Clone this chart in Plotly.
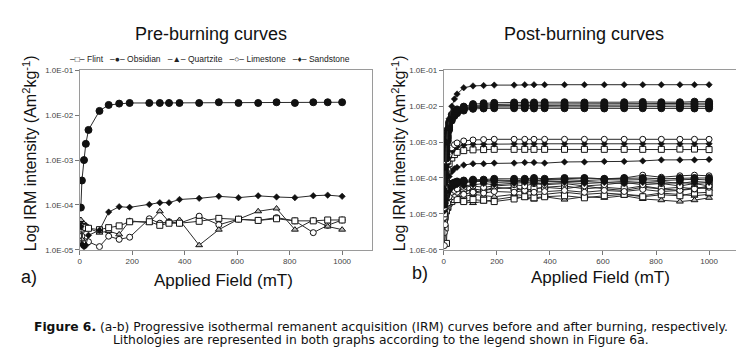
import plotly.graph_objects as go

# ---------------- data ----------------
FIELD_PRE = [4, 8, 16, 23, 33, 75, 110, 150, 190, 265, 305, 340, 380, 455, 530, 605, 680, 750, 820, 890, 945, 1000]

pre_flint = [3.3e-5, 2.9e-5, 3.3e-5, 3.1e-5, 3.0e-5, 2.8e-5, 3.1e-5, 3.4e-5, 4.2e-5, 4.2e-5, 3.5e-5, 3.9e-5, 3.9e-5,
             4.3e-5, 5.0e-5, 4.8e-5, 4.5e-5, 4.9e-5, 4.4e-5, 4.4e-5, 4.6e-5, 4.6e-5]
pre_obsidian = [8.7e-5, 3.5e-4, 1.0e-3, 2.3e-3, 4.7e-3, 1.25e-2, 1.7e-2, 1.82e-2, 1.88e-2, 1.88e-2, 1.88e-2, 1.88e-2,
                1.88e-2, 1.88e-2, 1.95e-2, 1.88e-2, 1.88e-2, 1.95e-2, 1.88e-2, 1.95e-2, 1.95e-2, 1.95e-2]
pre_quartzite = [4.6e-5, 1.7e-5, 3.8e-5, 3.5e-5, 3.0e-5, 2.4e-5, 2.6e-5, 2.2e-5, 4.4e-5, 4.0e-5, 7.2e-5, 4.2e-5, 4.6e-5,
                 1.26e-5, 2.8e-5, 4.8e-5, 7.2e-5, 8.3e-5, 2.8e-5, 4.6e-5, 3.3e-5, 2.8e-5]
pre_limestone = [3.5e-5, 2.0e-5, 1.5e-5, 1.5e-5, 1.5e-5, 1.17e-5, 2.0e-5, 1.7e-5, 1.9e-5, 4.9e-5, 3.9e-5, 4.2e-5, 3.9e-5,
                 5.6e-5, 3.6e-5, 4.8e-5, 4.5e-5, 5.2e-5, 4.4e-5, 2.4e-5, 3.5e-5, 4.6e-5]
pre_sandstone = [3.3e-5, 1.3e-5, 1.15e-5, 1.25e-5, 2.1e-5, 2.7e-5, 6.9e-5, 9.1e-5, 8.8e-5, 1.02e-4, 1.12e-4, 1.12e-4,
                 1.32e-4, 1.4e-4, 1.55e-4, 1.45e-4, 1.59e-4, 1.5e-4, 1.45e-4, 1.6e-4, 1.65e-4, 1.55e-4]

FIELD_POST = [2, 5, 10, 15, 20, 30, 40, 50, 75, 110, 150, 190, 265, 305, 340, 380, 455, 530, 605, 680, 750, 820, 890, 945, 1000]

post_sandstone_top = [5e-5, 2e-4, 1.0e-3, 2.5e-3, 4.5e-3, 1.0e-2, 1.6e-2, 2.2e-2, 3.3e-2, 3.7e-2, 3.8e-2, 3.9e-2, 3.9e-2,
                      4.0e-2, 4.0e-2, 4.0e-2, 4.0e-2, 4.0e-2, 4.0e-2, 4.0e-2, 4.0e-2, 4.0e-2, 4.0e-2, 4.0e-2, 4.0e-2]
post_obsidian_1 = [4e-5, 2e-4, 9e-4, 2.2e-3, 3.6e-3, 5.8e-3, 7.2e-3, 8.2e-3, 9.8e-3, 1.15e-2, 1.22e-2, 1.25e-2, 1.28e-2,
                   1.3e-2, 1.28e-2, 1.3e-2, 1.3e-2, 1.28e-2, 1.3e-2, 1.3e-2, 1.32e-2, 1.3e-2, 1.3e-2, 1.35e-2, 1.35e-2]
post_obsidian_2 = [3e-5, 1.5e-4, 7e-4, 1.8e-3, 3.2e-3, 5.2e-3, 6.6e-3, 7.6e-3, 9.0e-3, 1.05e-2, 1.1e-2, 1.12e-2, 1.15e-2,
                   1.15e-2, 1.15e-2, 1.16e-2, 1.15e-2, 1.16e-2, 1.15e-2, 1.16e-2, 1.18e-2, 1.18e-2, 1.2e-2, 1.22e-2, 1.22e-2]
post_obsidian_3 = [2.5e-5, 1.2e-4, 5.5e-4, 1.5e-3, 2.8e-3, 4.8e-3, 6.2e-3, 7.2e-3, 8.6e-3, 9.8e-3, 1.02e-2, 1.04e-2, 1.05e-2,
                   1.05e-2, 1.05e-2, 1.06e-2, 1.05e-2, 1.06e-2, 1.05e-2, 1.06e-2, 1.06e-2, 1.08e-2, 1.08e-2, 1.1e-2, 1.1e-2]
post_obsidian_4 = [2e-5, 1e-4, 4.5e-4, 1.3e-3, 2.5e-3, 4.4e-3, 5.8e-3, 6.8e-3, 8.2e-3, 9.2e-3, 9.5e-3, 9.6e-3, 9.6e-3,
                   9.7e-3, 9.6e-3, 9.7e-3, 9.6e-3, 9.7e-3, 9.7e-3, 9.6e-3, 9.8e-3, 9.8e-3, 9.7e-3, 9.8e-3, 9.8e-3]
post_obsidian_5 = [1.8e-5, 8e-5, 3.5e-4, 1.1e-3, 2.2e-3, 4.0e-3, 5.4e-3, 6.4e-3, 7.6e-3, 8.5e-3, 8.7e-3, 8.8e-3, 8.8e-3,
                   8.8e-3, 8.7e-3, 8.8e-3, 8.8e-3, 8.8e-3, 8.7e-3, 8.8e-3, 8.8e-3, 8.8e-3, 8.8e-3, 8.7e-3, 8.7e-3]
post_limestone_hi = [1.5e-5, 5e-5, 1.5e-4, 3e-4, 4.5e-4, 7e-4, 8.5e-4, 9.5e-4, 1.08e-3, 1.15e-3, 1.18e-3, 1.2e-3, 1.2e-3,
                     1.2e-3, 1.2e-3, 1.2e-3, 1.2e-3, 1.2e-3, 1.2e-3, 1.2e-3, 1.2e-3, 1.2e-3, 1.2e-3, 1.2e-3, 1.2e-3]
post_sandstone_mid = [1.2e-5, 4e-5, 1.2e-4, 2.5e-4, 3.8e-4, 5.5e-4, 6.8e-4, 7.5e-4, 8.3e-4, 8.7e-4, 8.8e-4, 8.9e-4, 9e-4,
                      9e-4, 9e-4, 9e-4, 9e-4, 9e-4, 9e-4, 9e-4, 9e-4, 9e-4, 9e-4, 9e-4, 9e-4]
post_flint_mid = [1e-5, 3e-5, 8e-5, 1.6e-4, 2.5e-4, 3.6e-4, 4.5e-4, 5.2e-4, 5.8e-4, 6.1e-4, 6.2e-4, 6.3e-4, 6.3e-4,
                  6.3e-4, 6.3e-4, 6.3e-4, 6.3e-4, 6.3e-4, 6.3e-4, 6.3e-4, 6.3e-4, 6.3e-4, 6.4e-4, 6.4e-4, 6.2e-4]
post_sandstone_low = [1e-5, 2e-5, 5e-5, 8e-5, 1.1e-4, 1.5e-4, 1.8e-4, 2.0e-4, 2.3e-4, 2.5e-4, 2.5e-4, 2.6e-4, 2.6e-4,
                      2.7e-4, 2.7e-4, 2.6e-4, 2.8e-4, 2.8e-4, 2.9e-4, 2.9e-4, 3.0e-4, 3.2e-4, 3.2e-4, 3.2e-4, 3.3e-4]
post_obsidian_6 = [2e-5, 3e-5, 4e-5, 5e-5, 6e-5, 7e-5, 7.5e-5, 8e-5, 8.5e-5, 9e-5, 9e-5, 9.5e-5, 9.5e-5,
                   9.5e-5, 1.0e-4, 9.5e-5, 1.0e-4, 1.0e-4, 9.5e-5, 1.0e-4, 1.0e-4, 9.5e-5, 1.0e-4, 1.0e-4, 1.0e-4]
post_obsidian_7 = [1.5e-5, 2.5e-5, 3.5e-5, 4.5e-5, 5e-5, 6e-5, 7e-5, 7.5e-5, 8e-5, 8.5e-5, 8.5e-5, 8.8e-5, 8.5e-5,
                   9e-5, 8.5e-5, 8.8e-5, 9e-5, 8.5e-5, 9e-5, 8.8e-5, 9e-5, 8.5e-5, 9e-5, 9.2e-5, 8.8e-5]
post_limestone_1 = [8e-6, 1.5e-5, 3e-5, 4e-5, 5e-5, 6e-5, 6.5e-5, 7e-5, 7.5e-5, 8e-5, 8e-5, 8.5e-5, 8e-5,
                    9e-5, 8.5e-5, 9e-5, 9.5e-5, 1.0e-4, 9.5e-5, 1.0e-4, 1.2e-4, 1.05e-4, 1.15e-4, 1.2e-4, 1.15e-4]
post_limestone_2 = [1.3e-6, 5e-6, 1.2e-5, 2e-5, 3e-5, 4e-5, 4.5e-5, 5e-5, 5.5e-5, 6e-5, 5.5e-5, 6e-5, 6.5e-5,
                    6e-5, 7e-5, 6.5e-5, 7e-5, 6e-5, 6.5e-5, 7.5e-5, 6.5e-5, 7e-5, 6e-5, 7e-5, 6e-5]
post_limestone_3 = [3e-6, 8e-6, 1.5e-5, 2e-5, 2.5e-5, 3e-5, 3.5e-5, 4e-5, 3.5e-5, 4e-5, 3.8e-5, 4.2e-5, 4e-5,
                    4.5e-5, 4e-5, 4.2e-5, 4.5e-5, 4e-5, 4.5e-5, 4.2e-5, 4.8e-5, 4.2e-5, 4.5e-5, 5e-5, 5.5e-5]
post_flint_1 = [6e-6, 4e-6, 1.5e-6, 1.6e-5, 4e-5, 6e-5, 7e-5, 7.5e-5, 7.5e-5, 8e-5, 8e-5, 7.5e-5, 8e-5,
                8e-5, 7.5e-5, 8e-5, 8e-5, 8e-5, 7.5e-5, 8e-5, 7.5e-5, 8e-5, 7e-5, 8e-5, 7.5e-5]
post_flint_2 = [1e-5, 1.5e-5, 2e-5, 3e-5, 3.5e-5, 4e-5, 4.5e-5, 4.5e-5, 5e-5, 4e-5, 4.5e-5, 5e-5, 5.5e-5,
                4.5e-5, 5e-5, 5.5e-5, 6e-5, 5e-5, 5.5e-5, 5e-5, 6e-5, 5e-5, 5.5e-5, 5e-5, 6e-5]
post_flint_3 = [5e-6, 8e-6, 1.2e-5, 1.5e-5, 2e-5, 2.2e-5, 2.5e-5, 2.5e-5, 2.2e-5, 2.5e-5, 2.4e-5, 2.2e-5, 2.6e-5,
                3e-5, 2.8e-5, 3e-5, 3.2e-5, 2.8e-5, 3.2e-5, 3.5e-5, 3e-5, 3.4e-5, 3.2e-5, 3.8e-5, 4e-5]
post_quartzite_1 = [1e-5, 1.2e-5, 1.5e-5, 1.8e-5, 2e-5, 2.2e-5, 2.5e-5, 2.5e-5, 2.2e-5, 2e-5, 2.2e-5, 2.4e-5, 3e-5,
                    2.8e-5, 2.5e-5, 3e-5, 2.5e-5, 3e-5, 2.8e-5, 3.2e-5, 2.6e-5, 2.4e-5, 2.2e-5, 2.4e-5, 2.8e-5]
post_quartzite_2 = [1.5e-5, 2e-5, 2.2e-5, 2.5e-5, 3e-5, 3.5e-5, 3.5e-5, 3.2e-5, 3e-5, 3.5e-5, 3.2e-5, 3e-5, 3.5e-5,
                    3.2e-5, 3.5e-5, 3.5e-5, 4e-5, 3.5e-5, 3.8e-5, 3.5e-5, 3.2e-5, 3.8e-5, 3.5e-5, 3.2e-5, 3.5e-5]
post_quartzite_3 = [2e-5, 2.5e-5, 3e-5, 3.5e-5, 4e-5, 4.5e-5, 5e-5, 4.5e-5, 4e-5, 5e-5, 4.5e-5, 5.5e-5, 5e-5,
                    4.5e-5, 5e-5, 5.5e-5, 5e-5, 6e-5, 5e-5, 4.5e-5, 5.5e-5, 5e-5, 4.5e-5, 5.5e-5, 5e-5]
post_sandstone_4 = [1.2e-5, 2e-5, 3e-5, 4e-5, 5e-5, 5.5e-5, 6e-5, 6.5e-5, 6e-5, 6.5e-5, 7e-5, 6.5e-5, 7e-5,
                    7.5e-5, 7e-5, 7e-5, 7.5e-5, 7e-5, 7.5e-5, 7e-5, 7.5e-5, 7e-5, 7.5e-5, 7e-5, 7.5e-5]

Y_TICKS_PRE = [1e-5, 1e-4, 1e-3, 1e-2, 1e-1]
Y_TEXT_PRE = ["1.0E-05", "1.0E-04", "1.0E-03", "1.0E-02", "1.0E-01"]
Y_TICKS_POST = [1e-6, 1e-5, 1e-4, 1e-3, 1e-2, 1e-1]
Y_TEXT_POST = ["1.0E-06", "1.0E-05", "1.0E-04", "1.0E-03", "1.0E-02", "1.0E-01"]
X_TICKS = [0, 200, 400, 600, 800, 1000]

# ---------------- styles ----------------
W, H = 744, 348
FONT = "Liberation Sans, Arial, sans-serif"
CAPFONT = "DejaVu Sans, Verdana, sans-serif"
LINE = "#2a2a2a"
STYLE = {
    "Flint": dict(symbol="square", size=6, color="white", line=dict(color="#111", width=1)),
    "Obsidian": dict(symbol="circle", size=7, color="#111", line=dict(color="#111", width=1)),
    "Quartzite": dict(symbol="triangle-up", size=6, color="#bbbbbb", line=dict(color="#111", width=1)),
    "Limestone": dict(symbol="circle", size=6, color="white", line=dict(color="#111", width=1)),
    "Sandstone": dict(symbol="diamond", size=5, color="#111", line=dict(color="#111", width=0.5)),
}


def px_x(p):
    return p / W


def px_y(p):
    return 1 - p / H


fig = go.Figure()


def add(x, y, lith, xa, ya):
    fig.add_trace(go.Scatter(x=x, y=y, mode="lines+markers", name=lith, showlegend=False,
                             line=dict(color=LINE, width=1), marker=STYLE[lith],
                             xaxis=xa, yaxis=ya, cliponaxis=True))


for vals, lith in [(pre_limestone, "Limestone"), (pre_quartzite, "Quartzite"), (pre_flint, "Flint"),
                   (pre_sandstone, "Sandstone"), (pre_obsidian, "Obsidian")]:
    add(FIELD_PRE, vals, lith, "x", "y")

post_series = [
    (post_quartzite_1, "Quartzite"), (post_quartzite_2, "Quartzite"), (post_quartzite_3, "Quartzite"),
    (post_flint_3, "Flint"), (post_flint_2, "Flint"), (post_flint_1, "Flint"),
    (post_limestone_3, "Limestone"), (post_limestone_2, "Limestone"), (post_limestone_1, "Limestone"),
    (post_sandstone_4, "Sandstone"), (post_obsidian_7, "Obsidian"), (post_obsidian_6, "Obsidian"),
    (post_sandstone_low, "Sandstone"), (post_flint_mid, "Flint"), (post_sandstone_mid, "Sandstone"),
    (post_limestone_hi, "Limestone"),
    (post_obsidian_5, "Obsidian"), (post_obsidian_4, "Obsidian"), (post_obsidian_3, "Obsidian"),
    (post_obsidian_2, "Obsidian"), (post_obsidian_1, "Obsidian"), (post_sandstone_top, "Sandstone"),
]
for vals, lith in post_series:
    add(FIELD_POST, vals, lith, "x2", "y2")

TOP, BOTTOM = 60, 244
axis_common = dict(showline=True, mirror=True, linecolor="#9a9a9a", linewidth=1, showgrid=False, zeroline=False,
                   ticks="outside", ticklen=4, tickcolor="#777", tickfont=dict(family=FONT, size=8, color="#444"))

fig.update_layout(
    width=W, height=H, margin=dict(l=0, r=0, t=0, b=0),
    paper_bgcolor="white", plot_bgcolor="white", showlegend=False,
    font=dict(family=FONT, color="#111"),
    xaxis=dict(domain=[px_x(70), px_x(363)], range=[0, 1114], tickvals=X_TICKS, anchor="y", **axis_common),
    yaxis=dict(domain=[px_y(BOTTOM), px_y(TOP)], type="log", range=[-5, -1], tickvals=Y_TICKS_PRE,
               ticktext=Y_TEXT_PRE, anchor="x", **axis_common),
    xaxis2=dict(domain=[px_x(435), px_x(735)], range=[0, 1128], tickvals=X_TICKS, anchor="y2", **axis_common),
    yaxis2=dict(domain=[px_y(BOTTOM), px_y(TOP)], type="log", range=[-6, -1], tickvals=Y_TICKS_POST,
                ticktext=Y_TEXT_POST, anchor="x2", **axis_common),
)

YTITLE = "Log IRM intensity (Am<sup>2</sup>kg<sup>-1</sup>)"
GAP = "&nbsp;&nbsp; "
LEGEND_TEXT = GAP.join(["–□– Flint", "–●– Obsidian", "–▲– Quartzite", "–○– Limestone", "–♦– Sandstone"])
ann = [
    dict(text="Pre-burning curves", x=px_x(202), y=px_y(23), font=dict(size=18)),
    dict(text="Post-burning curves", x=px_x(576), y=px_y(23), font=dict(size=18)),
    dict(text=LEGEND_TEXT, x=px_x(201), y=px_y(48), font=dict(size=8.5, color="#222")),
    dict(text=YTITLE, x=px_x(20), y=px_y(145), textangle=-90, font=dict(size=16)),
    dict(text=YTITLE, x=px_x(390), y=px_y(145), textangle=-90, font=dict(size=16)),
    dict(text="Applied Field (mT)", x=px_x(214), y=px_y(276), font=dict(size=17)),
    dict(text="Applied Field (mT)", x=px_x(592), y=px_y(273), font=dict(size=17)),
    dict(text="a)", x=px_x(19), y=px_y(272), font=dict(size=18)),
    dict(text="b)", x=px_x(411), y=px_y(268), font=dict(size=18)),
    dict(text="<b>Figure 6.</b> (a-b) Progressive isothermal remanent acquisition (IRM) curves before and after burning, respectively.",
         x=px_x(372), y=px_y(323), font=dict(size=12.3, family=CAPFONT)),
    dict(text="Lithologies are represented in both graphs according to the legend shown in Figure 6a.",
         x=px_x(372), y=px_y(337), font=dict(size=12.3, family=CAPFONT)),
]
for a in ann:
    a.update(xref="paper", yref="paper", showarrow=False, xanchor="center", yanchor="middle")
    fig.add_annotation(**a)

fig.write_html("out.html")
